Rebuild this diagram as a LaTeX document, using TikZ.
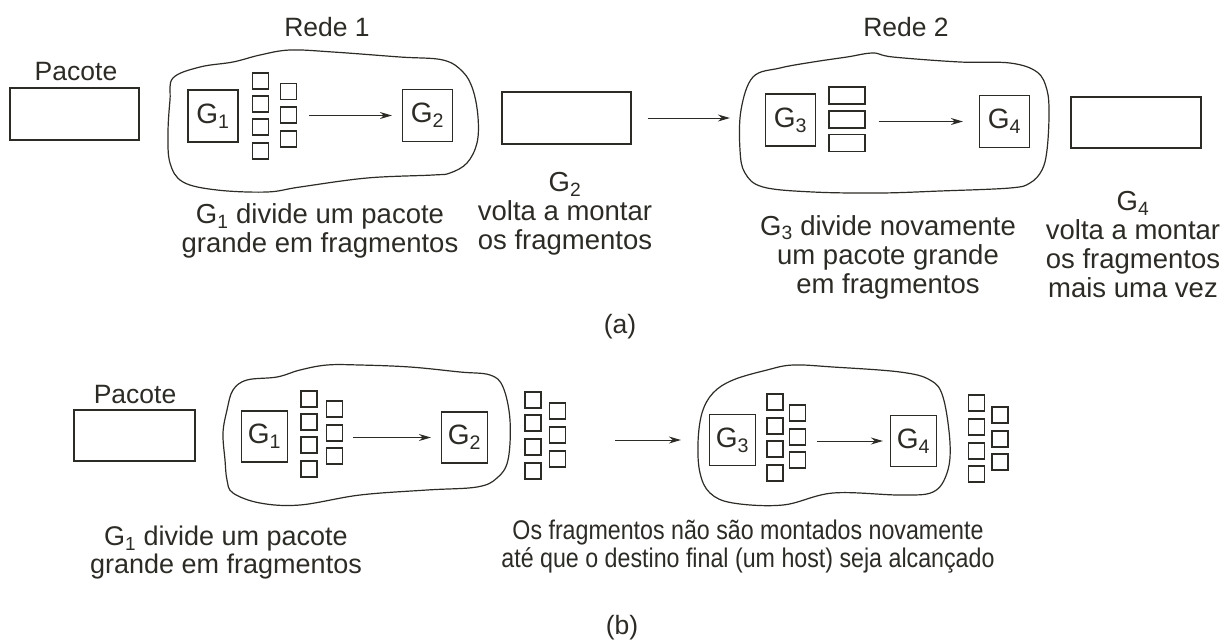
\documentclass[tikz,border=0pt]{standalone}
\usepackage{fontspec}
\setmainfont{Liberation Sans}
\newfontfamily\condfont{Liberation Sans}[FakeStretch=0.86]
\usetikzlibrary{arrows.meta}
\definecolor{ink}{RGB}{45,43,38}
\newcommand\lblfont{\fontsize{27.5}{29}\selectfont}
\newcommand\smfont{\fontsize{26.5}{29}\selectfont}
\newcommand\gwfont{\fontsize{28}{30}\selectfont}
\newcommand\Gs[1]{G\textsubscript{#1}}
\begin{document}
\begin{tikzpicture}[x=1pt,y=-1pt,
  gw/.style={draw=ink, line width=1.2pt, minimum width=50pt, minimum height=52pt, inner sep=0pt, text=ink, font=\gwfont},
  gwb/.style={gw, minimum width=46pt, minimum height=51pt},
  pk/.style 2 args={draw=ink, line width=1.2pt, minimum width=#1pt, minimum height=#2pt, inner sep=0pt},
  fr/.style={draw=ink, line width=1.1pt, minimum width=16pt, minimum height=16pt, inner sep=0pt},
  wr/.style={fr, minimum width=36pt, minimum height=17pt},
  lbl/.style={text=ink, align=center, font=\lblfont, inner sep=0pt},
  sml/.style={lbl, font=\smfont},
  arr/.style={draw=ink, line width=1pt, -{Stealth[length=12pt,width=7pt]}},
  cloudline/.style={draw=ink, line width=1.2pt}]
\useasboundingbox (0,0) rectangle (1232,641);

% ---------------- (a) ----------------
\draw[cloudline] plot[smooth cycle, tension=0.6] coordinates {
 (173,78) (200,67) (233,62) (260,55) (290,50) (333,52) (400,57) (443,60)
 (463,72) (473,90) (478,117) (477,143) (467,163) (450,173) (433,175)
 (367,178) (300,187) (267,192) (217,190) (183,182) (170,163) (168,133) (170,100)};
\draw[cloudline] plot[smooth cycle, tension=0.6] coordinates {
 (753,77) (780,68) (813,62) (847,57) (873,53) (893,57) (960,62) (1010,63)
 (1037,72) (1047,90) (1049,115) (1047,150) (1042,170) (1030,183) (1010,188)
 (940,191) (880,193) (813,192) (763,187) (745,173) (740,150) (741,110)};

\node[sml] (rede1) at (327,27) {Rede 1};
\node[sml] (rede2) at (906,27) {Rede 2};
\node[sml] (pacA) at (76,72) {Pacote};

\node[pk={129}{52}] (boxA1) at (74.5,114) {};
\node[pk={129}{52}] (boxA2) at (566.5,118) {};
\node[pk={130}{51}] (boxA3) at (1136,122.5) {};

\node[gw] (G1a) at (213,116) {\Gs{1}};
\node[gw] (G2a) at (427.5,115.5) {\Gs{2}};
\node[gw] (G3a) at (790.5,120) {\Gs{3}};
\node[gw] (G4a) at (1004.5,121.5) {\Gs{4}};

\foreach \y [count=\i] in {81,104,127,151} \node[fr] (a1c1r\i) at (260.5,\y) {};
\foreach \y [count=\i] in {91.5,115,139} \node[fr] (a1c2r\i) at (288.5,\y) {};
\foreach \y [count=\i] in {95.5,119.5,143} \node[wr] (a2r\i) at (847,\y) {};

\draw[arr, shorten <=12pt, shorten >=10pt] (a1c2r2.east |- G2a.west) -- (G2a.west);
\draw[arr, shorten <=16pt, shorten >=35pt] (boxA2.east) -- (G3a.west |- boxA2.east);
\draw[arr, shorten <=13pt, shorten >=16pt] (a2r2.east |- G4a.west) -- (G4a.west);

\node[lbl] (txtA1) at (320,231) {\Gs{1} divide um pacote\\grande em fragmentos};
\node[lbl] (txtA2) at (565,214) {\Gs{2}\\volta a montar\\os fragmentos};
\node[lbl] (txtA3) at (888,257) {\Gs{3} divide novamente\\um pacote grande\\em fragmentos};
\node[lbl] (txtA4) at (1133,245) {\Gs{4}\\volta a montar\\os fragmentos\\mais uma vez};
\node[sml] (capA) at (620,327) {(a)};

% ---------------- (b) ----------------
\draw[cloudline] plot[smooth cycle, tension=0.6] coordinates {
 (233,390) (247,380) (277,377) (300,370) (327,365) (360,365) (410,367) (460,372)
 (490,375) (503,387) (510,420) (508,460) (497,478) (477,487) (427,490)
 (360,495) (300,505) (260,503) (233,493) (227,480) (225,460) (223,433) (227,410)};
\draw[cloudline] plot[smooth cycle, tension=0.6] coordinates {
 (713,393) (733,380) (767,370) (793,365) (833,367) (900,372) (930,380)
 (943,397) (950,443) (947,473) (933,492) (900,495) (833,493) (783,505)
 (733,503) (710,493) (700,473) (698,443) (702,413)};

\node[sml] (pacB) at (135,395) {Pacote};
\node[pk={121}{51}] (boxB1) at (134.5,435.5) {};

\node[gwb] (G1b) at (264.5,436.5) {\Gs{1}};
\node[gwb] (G2b) at (464.5,437.5) {\Gs{2}};
\node[gwb] (G3b) at (732.5,440) {\Gs{3}};
\node[gwb] (G4b) at (913.5,441) {\Gs{4}};

\foreach \y [count=\i] in {399,422,445,469} \node[fr] (b1c1r\i) at (309,\y) {};
\foreach \y [count=\i] in {409,433,456} \node[fr] (b1c2r\i) at (334.5,\y) {};
\foreach \y [count=\i] in {400,423,447,471} \node[fr] (b2c1r\i) at (533,\y) {};
\foreach \y [count=\i] in {411,435,459} \node[fr] (b2c2r\i) at (557.5,\y) {};
\foreach \y [count=\i] in {402,426,449,473} \node[fr] (b3c1r\i) at (775,\y) {};
\foreach \y [count=\i] in {413,437,460} \node[fr] (b3c2r\i) at (797.5,\y) {};
\foreach \y [count=\i] in {403,427,451,474} \node[fr] (b4c1r\i) at (976.5,\y) {};
\foreach \y [count=\i] in {415,439,462} \node[fr] (b4c2r\i) at (1000,\y) {};

\draw[arr, shorten <=10pt, shorten >=10pt] (b1c2r2.east |- G2b.west) -- (G2b.west);
\draw[arr, shorten <=49pt, shorten >=28pt] (b2c2r2.east |- G3b.west) -- (G3b.west);
\draw[arr, shorten <=11pt, shorten >=7pt] (b3c2r2.east |- G4b.west) -- (G4b.west);

\node[sml, font=\fontsize{27}{28}\selectfont] (txtB1) at (226,553) {\Gs{1} divide um pacote\\grande em fragmentos};
\node[sml, font=\condfont\fontsize{27}{28}\selectfont] (txtB2) at (748,547) {Os fragmentos não são montados novamente\\até que o destino final (um host) seja alcançado};
\node[sml] (capB) at (622,628) {(b)};
\end{tikzpicture}
\end{document}
